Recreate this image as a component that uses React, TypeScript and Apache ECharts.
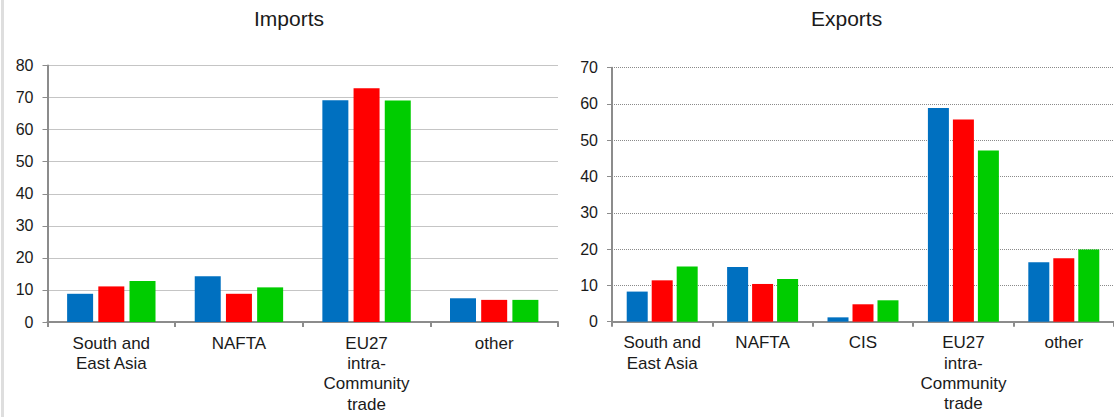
import React, { useEffect, useRef } from "react";
import * as echarts from "echarts";

const importCategories = ["South and\nEast Asia", "NAFTA", "EU27\nintra-\nCommunity\ntrade", "other"];
const importSeriesA = [8.8, 14.3, 69.2, 7.4];
const importSeriesB = [11.1, 8.8, 72.9, 6.9];
const importSeriesC = [12.8, 10.8, 69.1, 6.9];
const importTicks = { min: 0, max: 80, interval: 10 };

const exportCategories = ["South and\nEast Asia", "NAFTA", "CIS", "EU27\nintra-\nCommunity\ntrade", "other"];
const exportSeriesA = [8.3, 15.1, 1.2, 58.9, 16.4];
const exportSeriesB = [11.4, 10.4, 4.8, 55.7, 17.5];
const exportSeriesC = [15.2, 11.8, 5.9, 47.2, 19.9];
const exportTicks = { min: 0, max: 70, interval: 10 };

const colors = ["#0070C0", "#FF0000", "#00CC00"];
const FONT = "Liberation Sans, Arial, sans-serif";

export default function App() {
  const ref = useRef<HTMLDivElement>(null);
  useEffect(() => {
    document.body.style.margin = "0";
    if (!ref.current) return;
    const chart = echarts.init(ref.current, undefined, { renderer: "svg" });
    const axisLine = { show: true, lineStyle: { color: "#8c8c8c", width: 2 } };
    const xAxisCommon = (idx: number, data: string[]) => ({
      type: "category",
      gridIndex: idx,
      data,
      boundaryGap: true,
      axisLine,
      axisTick: { show: true, length: 5, alignWithLabel: false, lineStyle: { color: "#8c8c8c", width: 2 } },
      axisLabel: {
        interval: 0,
        color: "#1a1a1a",
        fontFamily: FONT,
        fontSize: 17,
        lineHeight: 20.3,
        margin: 11,
        verticalAlign: "top",
      },
      splitLine: { show: false },
    });
    const yAxisCommon = (idx: number, t: { min: number; max: number; interval: number }) => ({
      type: "value",
      gridIndex: idx,
      min: t.min,
      max: t.max,
      interval: t.interval,
      axisLine,
      axisTick: { show: true, length: 5, lineStyle: { color: "#8c8c8c", width: 1 } },
      axisLabel: { color: "#1a1a1a", fontFamily: FONT, fontSize: 16, margin: 14 },
      splitLine: { show: true, lineStyle: { color: "#8a8a8a", type: [1, 1], width: 1 } },
    });
    const bars = (name: string, data: number[], ci: number, idx: number, bw: number, gap: string) => ({
      name,
      type: "bar",
      xAxisIndex: idx,
      yAxisIndex: idx,
      data,
      barWidth: bw,
      barGap: gap,
      itemStyle: { color: colors[ci] },
    });
    chart.setOption({
      animation: false,
      backgroundColor: "#ffffff",
      title: [
        { text: "Imports", left: 254, top: 8, padding: 0, textStyle: { fontFamily: FONT, fontSize: 21, fontWeight: "normal", color: "#1a1a1a" } },
        { text: "Exports", left: 811, top: 8, padding: 0, textStyle: { fontFamily: FONT, fontSize: 21, fontWeight: "normal", color: "#1a1a1a" } },
      ],
      graphic: [
        { type: "rect", left: 1, top: 0, shape: { width: 3, height: 417 }, style: { fill: "#dedede" } },
      ],
      grid: [
        { left: 47.5, right: 556, top: 65.5, bottom: 95, containLabel: false },
        { left: 612, right: -5, top: 67.7, bottom: 95.3, containLabel: false },
      ],
      xAxis: [xAxisCommon(0, importCategories), xAxisCommon(1, exportCategories)],
      yAxis: [yAxisCommon(0, importTicks), yAxisCommon(1, exportTicks)],
      series: [
        bars("A", importSeriesA, 0, 0, 26, "20%"),
        bars("B", importSeriesB, 1, 0, 26, "20%"),
        bars("C", importSeriesC, 2, 0, 26, "20%"),
        bars("A", exportSeriesA, 0, 1, 21, "19%"),
        bars("B", exportSeriesB, 1, 1, 21, "19%"),
        bars("C", exportSeriesC, 2, 1, 21, "19%"),
      ],
    });
    return () => chart.dispose();
  }, []);
  return <div ref={ref} style={{ width: 1114, height: 417 }} />;
}
